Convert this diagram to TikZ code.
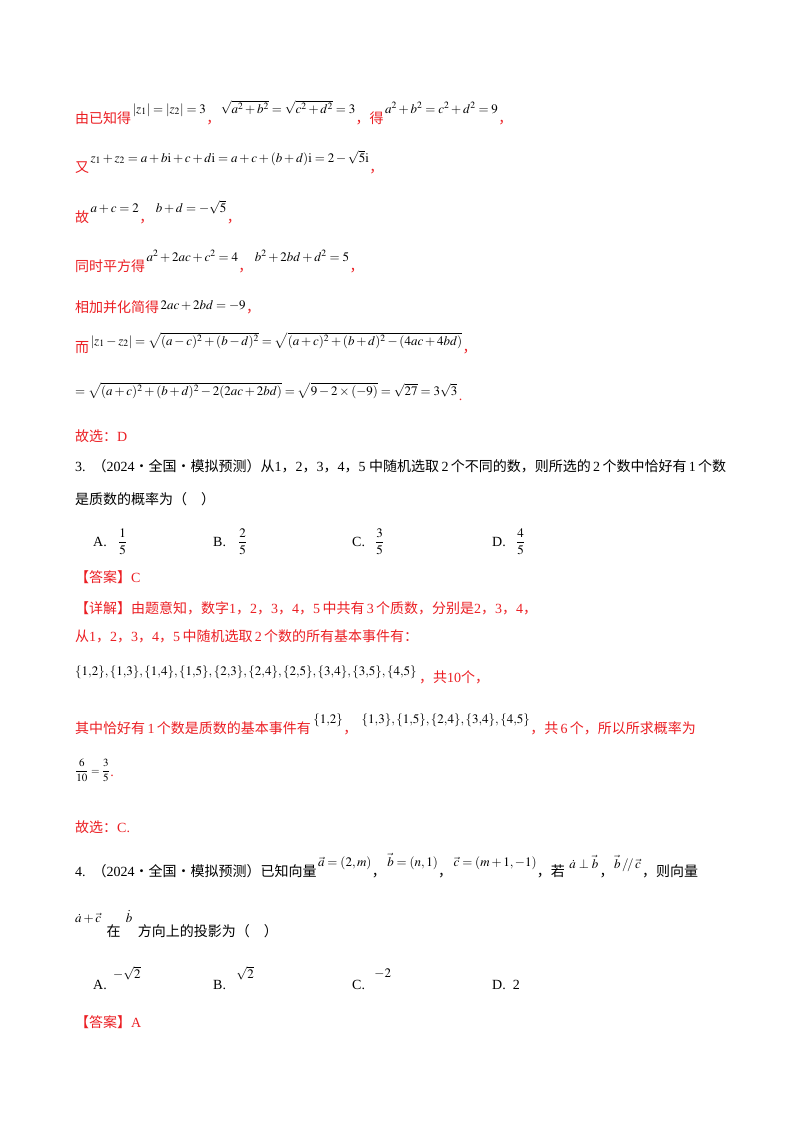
\documentclass[tikz,border=0pt]{standalone}
\usepackage{fix-cm}
\usepackage{mathptmx}
\usepackage{amsmath}
\usepackage{fontspec}
\usetikzlibrary{calc}
\setmainfont{Liberation Serif}
\newfontfamily\cjk{Noto Sans CJK SC}
\definecolor{rd}{RGB}{235,30,35}
\newcommand{\zh}[1]{{\cjk #1}}
\begin{document}
\begin{tikzpicture}[x=1pt,y=-1pt,
  t/.style={anchor=base west,inner sep=0pt,font=\fontsize{14}{16}\selectfont},
  r/.style={t,text=rd},
  m/.style={anchor=base west,inner sep=0pt,font=\fontsize{13}{15}\selectfont}]
\useasboundingbox (0,0) rectangle (800,1132);
% line 1
\node[r] (l1a) at (75,123) {\zh{由已知得}};
\node[m] (l1b) at ($(l1a.base east)+(1,-10)$) {$|z_1|=|z_2|=3$};
\node[r] (l1c) at ($(l1b.base east)+(0,10)$) {\zh{，}};
\node[m] (l1d) at ($(l1c.base east)+(0,-10)$) {$\sqrt{a^2+b^2}=\sqrt{c^2+d^2}=3$};
\node[r] (l1e) at ($(l1d.base east)+(0,10)$) {\zh{，得}};
\node[m] (l1f) at ($(l1e.base east)+(1,-10)$) {$a^2+b^2=c^2+d^2=9$};
\node[r] (l1g) at ($(l1f.base east)+(0,10)$) {\zh{，}};
% line 2
\node[r] (l2a) at (75,172) {\zh{又}};
\node[m] (l2b) at ($(l2a.base east)+(1,-10)$) {$z_1+z_2=a+b\mathrm{i}+c+d\mathrm{i}=a+c+(b+d)\mathrm{i}=2-\sqrt5\mathrm{i}$};
\node[r] (l2c) at ($(l2b.base east)+(0,10)$) {\zh{，}};
% line 3
\node[r] (l3a) at (75,222) {\zh{故}};
\node[m] (l3b) at ($(l3a.base east)+(1,-10)$) {$a+c=2$};
\node[r] (l3c) at ($(l3b.base east)+(0,10)$) {\zh{，}};
\node[m] (l3d) at ($(l3c.base east)+(2,-10)$) {$b+d=-\sqrt5$};
\node[r] (l3e) at ($(l3d.base east)+(0,10)$) {\zh{，}};
% line 4
\node[r] (l4a) at (75,271) {\zh{同时平方得}};
\node[m] (l4b) at ($(l4a.base east)+(1,-10)$) {$a^2+2ac+c^2=4$};
\node[r] (l4c) at ($(l4b.base east)+(0,10)$) {\zh{，}};
\node[m] (l4d) at ($(l4c.base east)+(2,-10)$) {$b^2+2bd+d^2=5$};
\node[r] (l4e) at ($(l4d.base east)+(0,10)$) {\zh{，}};
% line 5
\node[r] (l5a) at (75,312) {\zh{相加并化简得}};
\node[m] (l5b) at ($(l5a.base east)+(1,-3)$) {$2ac+2bd=-9$};
\node[r] (l5c) at ($(l5b.base east)+(0,3)$) {\zh{，}};
% line 6
\node[r] (l6a) at (75,352) {\zh{而}};
\node[m] (l6b) at ($(l6a.base east)+(1,-7)$) {$|z_1-z_2|=\sqrt{(a-c)^2+(b-d)^2}=\sqrt{(a+c)^2+(b+d)^2-(4ac+4bd)}$};
\node[r] (l6c) at ($(l6b.base east)+(0,7)$) {\zh{，}};
% line 7
\node[m] (l7a) at (75,395) {$=\sqrt{(a+c)^2+(b+d)^2-2(2ac+2bd)}=\sqrt{9-2\times(-9)}=\sqrt{27}=3\sqrt3$};
\node[r] (l7b) at ($(l7a.base east)+(1,5)$) {.};
% answer
\node[r] (l8) at (75,441) {\zh{故选：}D};
% Q3
\node[t] (q3a) at (75,471) {3.\ \ \zh{（}2024\zh{·全国·模拟预测）从}1\zh{，}2\zh{，}3\zh{，}4\zh{，}5\ \zh{中随机选取}\,2\,\zh{个不同的数，则所选的}\,2\,\zh{个数中恰好有}\,1\,\zh{个数}};
\node[t] (q3b) at (75,504) {\zh{是质数的概率为（\quad ）}};
\node[t] (oa) at (93,546) {A.};
\node[m] (oaf) at (118,546) {$\dfrac15$};
\node[t] (ob) at (213,546) {B.};
\node[m] (obf) at (238,546) {$\dfrac25$};
\node[t] (oc) at (352,546) {C.};
\node[m] (ocf) at (375,546) {$\dfrac35$};
\node[t] (od) at (492,546) {D.};
\node[m] (odf) at (516,546) {$\dfrac45$};
\node[r] (ans3) at (75,582) {\zh{【答案】}C};
\node[r] (d1) at (75,613) {\zh{【详解】由题意知，数字}1\zh{，}2\zh{，}3\zh{，}4\zh{，}5\,\zh{中共有}\,3\,\zh{个质数，分别是}2\zh{，}3\zh{，}4\zh{，}};
\node[r] (d2) at (75,641) {\zh{从}1\zh{，}2\zh{，}3\zh{，}4\zh{，}5\,\zh{中随机选取}\,2\,\zh{个数的所有基本事件有：}};
\node[m] (d3a) at (75,675) {$\{1{,}2\},\{1{,}3\},\{1{,}4\},\{1{,}5\},\{2{,}3\},\{2{,}4\},\{2{,}5\},\{3{,}4\},\{3{,}5\},\{4{,}5\}$};
\node[r] (d3b) at ($(d3a.base east)+(2,7)$) {\zh{，共}10\zh{个，}};
\node[r] (d4a) at (75,733) {\zh{其中恰好有}\,1\,\zh{个数是质数的基本事件有}};
\node[m] (d4b) at ($(d4a.base east)+(2,-10)$) {$\{1{,}2\}$};
\node[r] (d4c) at ($(d4b.base east)+(0,10)$) {\zh{，}};
\node[m] (d4d) at ($(d4c.base east)+(4,-10)$) {$\{1{,}3\},\{1{,}5\},\{2{,}4\},\{3{,}4\},\{4{,}5\}$};
\node[r] (d4e) at ($(d4d.base east)+(0,10)$) {\zh{，共}\,6\,\zh{个，所以所求概率为}};
\node[m,font=\fontsize{11}{13}\selectfont] (d5) at (75,774) {$\dfrac{6}{10}=\dfrac35$};
\node[r] (d5b) at ($(d5.base east)+(0,2)$) {.};
\node[r] (ans3b) at (75,832) {\zh{故选：}C.};
% Q4
\node[t] (q4a) at (75,876) {4.\ \ \zh{（}2024\zh{·全国·模拟预测）已知向量}};
\node[m] (q4b) at ($(q4a.base east)+(1,-10)$) {$\vec a=(2,m)$};
\node[t] (q4c) at ($(q4b.base east)+(0,10)$) {\zh{，}};
\node[m] (q4d) at ($(q4c.base east)+(1,-10)$) {$\vec b=(n,1)$};
\node[t] (q4e) at ($(q4d.base east)+(0,10)$) {\zh{，}};
\node[m] (q4f) at ($(q4e.base east)+(1,-10)$) {$\vec c=(m+1,-1)$};
\node[t] (q4g) at ($(q4f.base east)+(0,10)$) {\zh{，若}};
\node[m] (q4h) at ($(q4g.base east)+(4,-8)$) {$\dot a\perp\vec b$};
\node[t] (q4i) at ($(q4h.base east)+(1,8)$) {\zh{，}};
\node[m] (q4j) at ($(q4i.base east)+(0,-8)$) {$\vec b\,/\!/\,\vec c$};
\node[t] (q4k) at ($(q4j.base east)+(1,8)$) {\zh{，则向量}};
\node[m] (q5a) at (75,922) {$\dot a+\vec c$};
\node[t] (q5b) at ($(q5a.base east)+(5,14)$) {\zh{在}};
\node[m] (q5c) at ($(q5b.base east)+(5,-14)$) {$\dot b$};
\node[t] (q5d) at ($(q5c.base east)+(5,14)$) {\zh{方向上的投影为（\quad ）}};
\node[t] (pa) at (93,989) {A.};
\node[m] (paf) at ($(pa.base east)+(6,-11)$) {$-\sqrt2$};
\node[t] (pb) at (213,989) {B.};
\node[m] (pbf) at ($(pb.base east)+(10,-11)$) {$\sqrt2$};
\node[t] (pc) at (352,989) {C.};
\node[m] (pcf) at ($(pc.base east)+(9,-12)$) {$-2$};
\node[t] (pd) at (492,989) {D.\ \ 2};
\node[r] (ans4) at (75,1027) {\zh{【答案】}A};
\end{tikzpicture}
\end{document}
